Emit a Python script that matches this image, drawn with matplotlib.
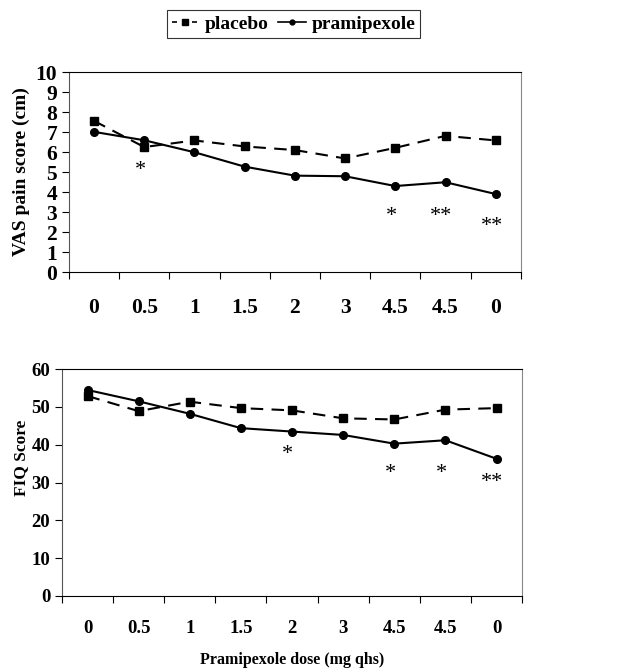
import matplotlib.pyplot as plt
from matplotlib.lines import Line2D
import numpy as np

# dose at each visit (categorical x axis)
doses = ["0", "0.5", "1", "1.5", "2", "3", "4.5", "4.5", "0"]

vas_placebo = [7.56, 6.25, 6.58, 6.28, 6.10, 5.68, 6.21, 6.81, 6.58]
vas_prami = [7.01, 6.59, 5.99, 5.27, 4.82, 4.79, 4.30, 4.49, 3.90]

fiq_placebo = [52.9, 48.9, 51.4, 49.7, 49.1, 47.0, 46.7, 49.3, 49.7]
fiq_prami = [54.5, 51.5, 48.2, 44.4, 43.5, 42.6, 40.3, 41.2, 36.3]

# significance marks: (visit index, y position, text)
vas_stars = [(1, 5.1, "*"), (6, 2.8, "*"), (7, 2.8, "**"), (8, 2.3, "**")]
fiq_stars = [(4, 37.5, "*"), (6, 32.5, "*"), (7, 32.5, "*"), (8, 30.0, "**")]

plt.rcParams["font.family"] = ["Liberation Serif", "DejaVu Serif"]

fig = plt.figure(figsize=(6.26, 6.71), dpi=100)
ax1 = fig.add_axes([0.110, 0.5946, 0.722, 0.298])
ax2 = fig.add_axes([0.099, 0.1118, 0.735, 0.338])

x = np.arange(len(doses))


def draw(ax, placebo, prami, stars, ymax, ystep, ylabel, fs, pad, lfs):
    ax.plot(x, placebo, color="black", linestyle=(0, (6, 4)), linewidth=1.5,
            marker="s", markersize=6)
    ax.plot(x, prami, color="black", linestyle="-", linewidth=1.5,
            marker="o", markersize=5.5)
    for i, y, s in stars:
        ax.text(i - 0.08, y, s, ha="center", va="center", fontsize=16)
    ax.set_xlim(-0.5, len(doses) - 0.5)
    ax.set_ylim(0, ymax)
    ax.set_yticks(np.arange(0, ymax + 0.1, ystep))
    ax.set_xticks(x)
    ax.set_xticklabels(doses, fontweight="bold", fontsize=fs)
    ax.set_xticks(np.arange(-0.5, len(doses)), minor=True)
    ax.tick_params(axis="x", which="major", length=0, pad=pad)
    ax.tick_params(axis="x", which="minor", length=5, direction="out",
                   width=0.8)
    ax.tick_params(axis="y", length=5, width=0.8, direction="out")
    for lab in ax.get_yticklabels():
        lab.set_fontweight("bold")
        lab.set_fontsize(fs)
    ax.set_ylabel(ylabel, fontweight="bold", fontsize=lfs)
    for sp in ax.spines.values():
        sp.set_linewidth(0.8)
    ax.spines["left"].set_color("#555555")
    ax.spines["right"].set_color("#888888")


draw(ax1, vas_placebo, vas_prami, vas_stars, 10, 1,
     "VAS pain score (cm)", 15.5, 19, 14)
draw(ax2, fiq_placebo, fiq_prami, fiq_stars, 60, 10,
     "FIQ Score", 13.5, 17, 12.5)
ax2.yaxis.set_label_coords(-0.072, 0.61)
ax2.set_xlabel("Pramipexole dose (mg qhs)", fontweight="bold", fontsize=11.5,
               labelpad=11)

handles = [
    Line2D([], [], color="black", linestyle=(0, (3, 3)), linewidth=1.2,
           marker="s", markersize=4),
    Line2D([], [], color="black", linestyle="-", linewidth=1.2,
           marker="o", markersize=3.5),
]
leg = fig.legend(handles, ["placebo", "pramipexole"], loc="center",
                 bbox_to_anchor=(0.469, 0.964), ncol=2, frameon=True,
                 fancybox=False, edgecolor="black", handlelength=1.4,
                 handletextpad=0.3, columnspacing=0.5, borderpad=0.25,
                 borderaxespad=0.1, prop={"weight": "bold", "size": 14})
leg.get_frame().set_linewidth(0.8)

fig.savefig("out.png", dpi=100, facecolor="white")
